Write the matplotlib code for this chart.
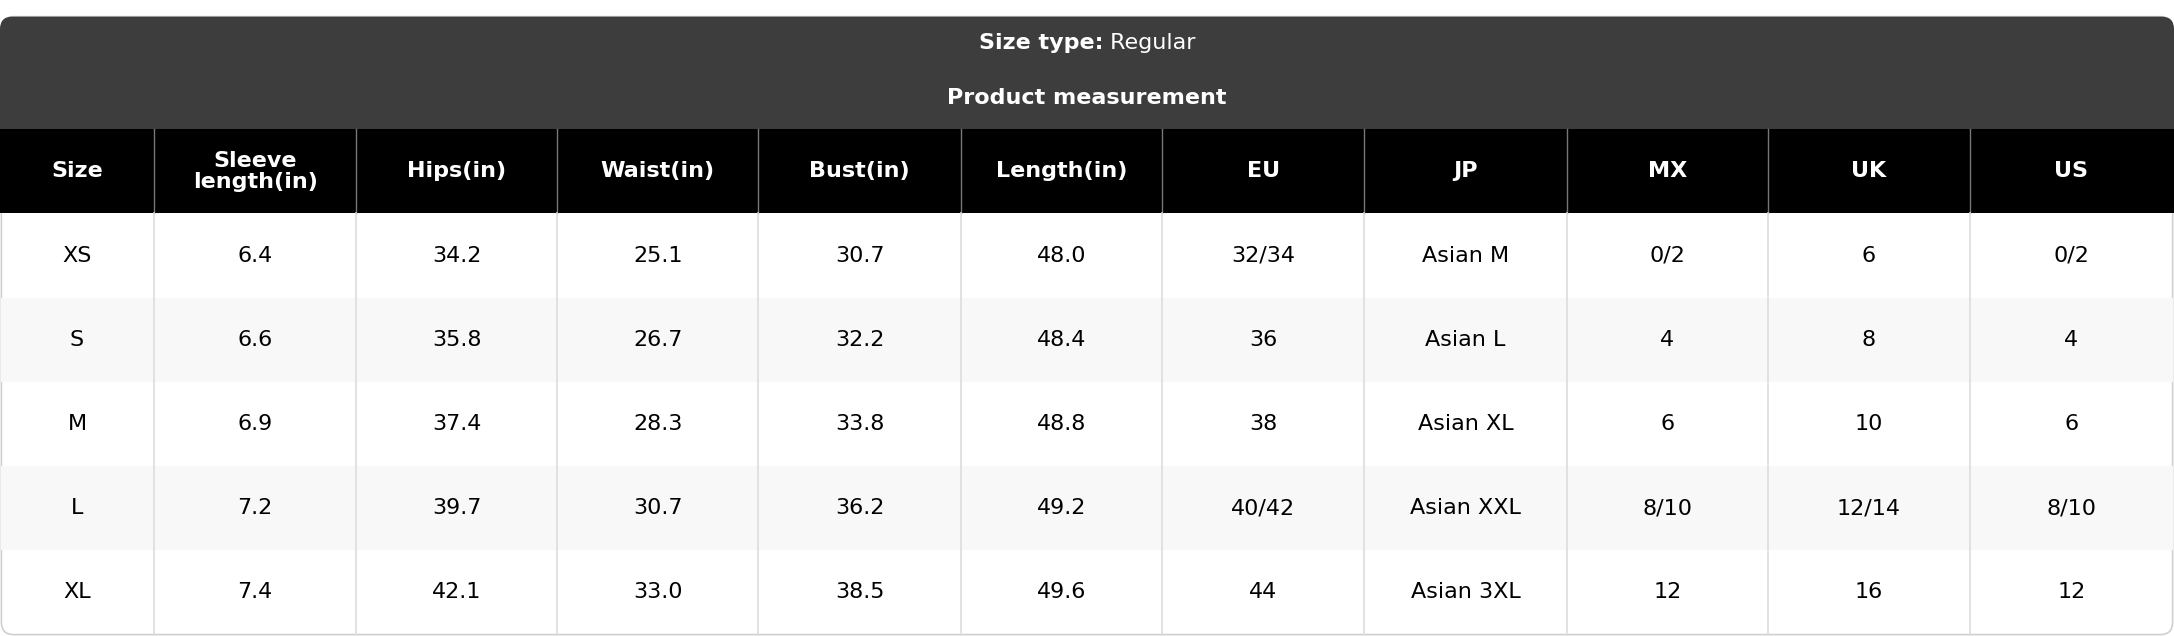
import matplotlib
matplotlib.use("Agg")
import matplotlib.pyplot as plt
from matplotlib.patches import FancyBboxPatch, Rectangle

columns = ["Size", "Sleeve\nlength(in)", "Hips(in)", "Waist(in)", "Bust(in)", "Length(in)", "EU", "JP", "MX", "UK", "US"]
sizes = ["XS", "S", "M", "L", "XL"]
sleeve = ["6.4", "6.6", "6.9", "7.2", "7.4"]
hips = ["34.2", "35.8", "37.4", "39.7", "42.1"]
waist = ["25.1", "26.7", "28.3", "30.7", "33.0"]
bust = ["30.7", "32.2", "33.8", "36.2", "38.5"]
length = ["48.0", "48.4", "48.8", "49.2", "49.6"]
eu = ["32/34", "36", "38", "40/42", "44"]
jp = ["Asian M", "Asian L", "Asian XL", "Asian XXL", "Asian 3XL"]
mx = ["0/2", "4", "6", "8/10", "12"]
uk = ["6", "8", "10", "12/14", "16"]
us = ["0/2", "4", "6", "8/10", "12"]
data_cols = [sizes, sleeve, hips, waist, bust, length, eu, jp, mx, uk, us]

W, H = 1568, 459
xb = [0, 111, 257, 402, 547, 693, 838, 984, 1130, 1275, 1421, 1567]
top, hdr_top, hdr_bot = 12, 93, 154
rowh = (458 - hdr_bot) / 5

fig = plt.figure(figsize=(21.74, 6.36), dpi=100)
ax = fig.add_axes([0, 0, 1, 1])
ax.set_xlim(0, W); ax.set_ylim(H, 0); ax.axis("off")

ax.add_patch(FancyBboxPatch((1, top), W - 2, 458 - top, boxstyle="round,pad=0,rounding_size=9",
                            fc="white", ec="#d0d0d0", lw=1.2, zorder=0))
ax.add_patch(FancyBboxPatch((0, top), W, hdr_top - top + 10, boxstyle="round,pad=0,rounding_size=9",
                            fc="#3d3d3d", ec="none", zorder=1))
ax.add_patch(Rectangle((0, hdr_top - 5), W, 5, fc="#3d3d3d", ec="none", zorder=1))
ax.add_patch(Rectangle((0, hdr_top), W, hdr_bot - hdr_top, fc="black", ec="none", zorder=2))

ax.text(W / 2 - 80, 31, "Size type:", color="white", fontsize=16, fontweight="bold", ha="left", va="center", zorder=3,
        transform=ax.transData)
t1 = ax.text(W / 2 + 20, 31, "Size type:", alpha=0)
ax.texts[-1].remove()
fig.canvas.draw()
r = fig.canvas.get_renderer()
bt = ax.texts[-1]
bb = bt.get_window_extent(r)
rt = ax.text(0, 31, " Regular", color="white", fontsize=16, ha="left", va="center", zorder=3)
bb2 = rt.get_window_extent(r)
total = bb.width + bb2.width
inv = ax.transData.inverted()
x0 = fig.bbox.width / 2 - total / 2
bt.set_position((inv.transform((x0, 0))[0], 31))
rt.set_position((inv.transform((x0 + bb.width, 0))[0], 31))
ax.text(W / 2, 71, "Product measurement", color="white", fontsize=16, fontweight="bold", ha="center", va="center", zorder=3)

for i, c in enumerate(columns):
    cx = (xb[i] + xb[i + 1]) / 2
    ax.text(cx, (hdr_top + hdr_bot) / 2, c, color="white", fontsize=16, fontweight="bold",
            ha="center", va="center", zorder=3, linespacing=1.05)

for j in range(5):
    y0 = hdr_bot + j * rowh
    if j % 2 == 1:
        ax.add_patch(Rectangle((1, y0), W - 2, rowh, fc="#f8f8f8", ec="none", zorder=1))
    for i, col in enumerate(data_cols):
        cx = (xb[i] + xb[i + 1]) / 2
        ax.text(cx, y0 + rowh / 2, col[j], color="black", fontsize=16, ha="center", va="center", zorder=3)

for x in xb[1:-1]:
    ax.plot([x, x], [hdr_top, hdr_bot], color="#777777", lw=1, zorder=4)
    ax.plot([x, x], [hdr_bot, 458], color="#dddddd", lw=1.2, zorder=4)

fig.savefig("out.png", dpi=100)
